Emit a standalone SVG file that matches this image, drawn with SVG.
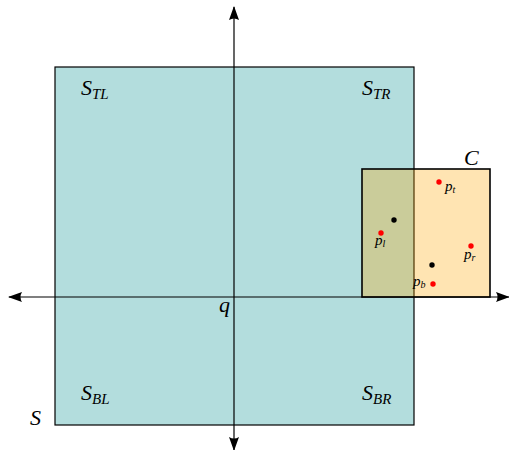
<svg xmlns="http://www.w3.org/2000/svg" width="509" height="450" viewBox="0 0 509 450">
<defs>
<marker id="ah" viewBox="0 0 14 10" refX="13" refY="5" markerWidth="14" markerHeight="10" markerUnits="userSpaceOnUse" orient="auto-start-reverse"><path d="M0,0 L14,5 L0,10 Q3,5 0,0 Z" fill="#000"/></marker>
</defs>
<style>
.lbl{font-family:"Liberation Serif",serif;font-style:italic;font-size:22px;fill:#000}
.sub{font-family:"Liberation Serif",serif;font-style:italic;font-size:15px;fill:#000}
.pl{font-family:"Liberation Serif",serif;font-style:italic;font-size:15px;fill:#000}
.ps{font-family:"Liberation Serif",serif;font-style:italic;font-size:10px;fill:#000}
.red{fill:#ff0000}
</style>
<rect width="509" height="450" fill="#fff"/>
<g id="S">
<rect x="55" y="67" width="359" height="358" fill="#b3dddd" stroke="#000" stroke-width="1.2"/>
<text class="lbl" x="30" y="425">S</text>
</g>
<g id="S_TL"><text class="lbl" x="81" y="95">S<tspan class="sub" dy="4">TL</tspan></text></g>
<g id="S_TR"><text class="lbl" x="362" y="95">S<tspan class="sub" dy="4">TR</tspan></text></g>
<g id="S_BL"><text class="lbl" x="81" y="400">S<tspan class="sub" dy="4">BL</tspan></text></g>
<g id="S_BR"><text class="lbl" x="362" y="400">S<tspan class="sub" dy="4">BR</tspan></text></g>
<g id="connectors">
<line x1="234" y1="450" x2="234" y2="7" stroke="#000" stroke-width="1.2" marker-end="url(#ah)" marker-start="url(#ah)"/>
<line x1="9" y1="297" x2="509" y2="297" stroke="#000" stroke-width="1.2" marker-end="url(#ah)" marker-start="url(#ah)"/>
</g>
<g id="q"><text class="lbl" x="219" y="312">q</text></g>
<g id="C">
<rect x="362" y="169" width="128" height="128" fill="#ffa500" fill-opacity="0.3" stroke="#000" stroke-width="1.6"/>
<text class="lbl" x="464" y="165">C</text>
</g>
<g id="points">
<circle cx="394" cy="220" r="2.7" fill="#000"/>
<circle cx="432" cy="265" r="2.7" fill="#000"/>
<circle class="red" cx="439" cy="182" r="2.7"/>
<circle class="red" cx="381" cy="233" r="2.7"/>
<circle class="red" cx="471" cy="246" r="2.7"/>
<circle class="red" cx="433" cy="284" r="2.7"/>
</g>
<g id="p_t"><text class="pl" x="445" y="191">p<tspan class="ps" dy="2">t</tspan></text></g>
<g id="p_l"><text class="pl" x="375" y="245">p<tspan class="ps" dy="2">l</tspan></text></g>
<g id="p_r"><text class="pl" x="464" y="259">p<tspan class="ps" dy="2">r</tspan></text></g>
<g id="p_b"><text class="pl" x="413" y="286">p<tspan class="ps" dy="2">b</tspan></text></g>
</svg>
